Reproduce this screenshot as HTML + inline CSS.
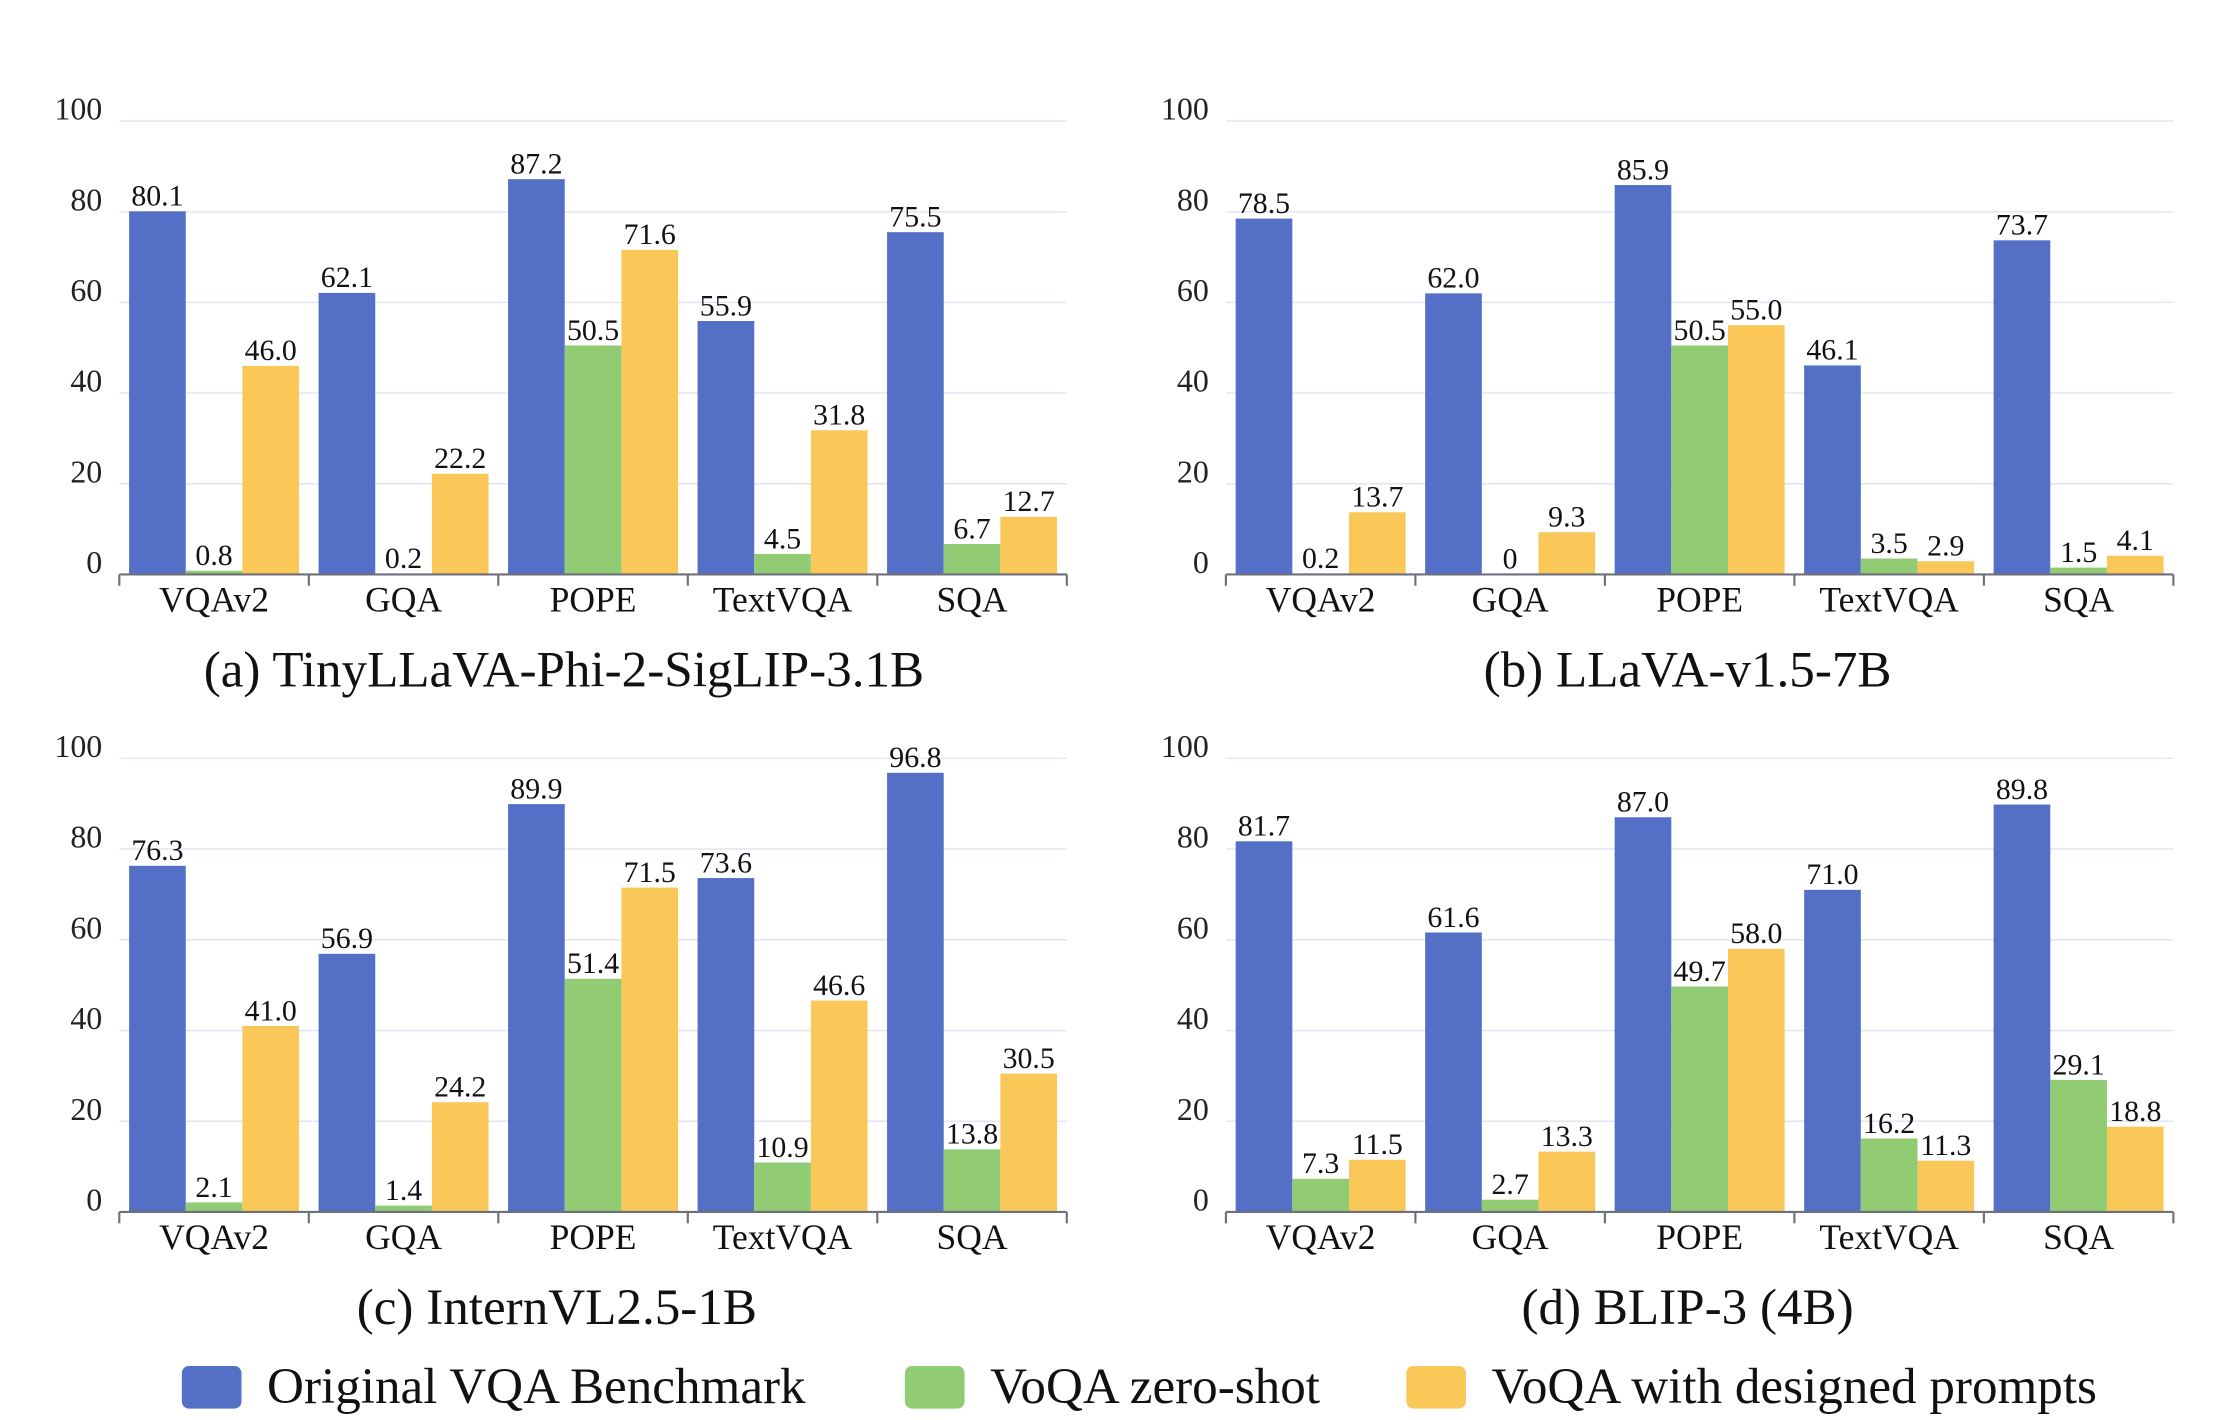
<!DOCTYPE html>
<html><head><meta charset="utf-8"><style>
html,body{margin:0;padding:0;background:#fff;}
svg{display:block;font-family:"Liberation Serif","Times New Roman",serif;}
</style></head><body>
<svg id="chart" width="2216" height="1420" viewBox="0 0 1560 1000" preserveAspectRatio="none" xmlns="http://www.w3.org/2000/svg"></svg>
<script>
const categories = ["VQAv2","GQA","POPE","TextVQA","SQA"];
const yTicks = [0,20,40,60,80,100];
const seriesNames = ["Original VQA Benchmark","VoQA zero-shot","VoQA with designed prompts"];
const seriesColors = ["#5470c6","#91cc75","#fac858"];
const captions = ["(a) TinyLLaVA-Phi-2-SigLIP-3.1B","(b) LLaVA-v1.5-7B","(c) InternVL2.5-1B","(d) BLIP-3 (4B)"];
const aBlue = [80.1,62.1,87.2,55.9,75.5];
const aGreen = [0.8,0.2,50.5,4.5,6.7];
const aYellow = [46.0,22.2,71.6,31.8,12.7];
const bBlue = [78.5,62.0,85.9,46.1,73.7];
const bGreen = [0.2,0,50.5,3.5,1.5];
const bYellow = [13.7,9.3,55.0,2.9,4.1];
const cBlue = [76.3,56.9,89.9,73.6,96.8];
const cGreen = [2.1,1.4,51.4,10.9,13.8];
const cYellow = [41.0,24.2,71.5,46.6,30.5];
const dBlue = [81.7,61.6,87.0,71.0,89.8];
const dGreen = [7.3,2.7,49.7,16.2,29.1];
const dYellow = [11.5,13.3,58.0,11.3,18.8];
const panelData = [[aBlue,aGreen,aYellow],[bBlue,bGreen,bYellow],[cBlue,cGreen,cYellow],[dBlue,dGreen,dYellow]];

const NS="http://www.w3.org/2000/svg";
const svg=document.getElementById('chart');
function mk(tag,attrs,parent){const e=document.createElementNS(NS,tag);for(const k in attrs)e.setAttribute(k,attrs[k]);(parent||svg).appendChild(e);return e;}
function fmt(v){return v===0?"0":v.toFixed(1);}

const panels=[{x0:84,x1:751,yTop:85.3,yBot:404.5,cx:397},{x0:863,x1:1530,yTop:85.3,yBot:404.5,cx:1188},{x0:84,x1:751,yTop:534,yBot:853.5,cx:392},{x0:863,x1:1530,yTop:534,yBot:853.5,cx:1188}];
const panelNames=["panel-a","panel-b","panel-c","panel-d"];
const seriesKeys=["original","zero-shot","designed-prompts"];

panels.forEach((p,pi)=>{
  const g=mk('g',{});
  
  
  const yScale=v=>p.yBot-(v/100)*(p.yBot-p.yTop);
  const bandW=(p.x1-p.x0)/categories.length;
  const xBand=i=>p.x0+i*bandW;
  const barW=bandW*0.299;
  const pad=(bandW-3*barW)/2;
  yTicks.forEach(t=>{
    const y=yScale(t);
    if(t>0){const l=mk('line',{x1:p.x0,x2:p.x1,y1:y,y2:y,stroke:'#e0e6f1','stroke-width':1},g);
      }
    const tx=mk('text',{x:p.x0-12,y:y-1,'font-size':22.5,'text-anchor':'end',fill:'#222'},g);
    
    tx.textContent=String(t);
  });
  panelData[pi].forEach((vals,si)=>{
    vals.forEach((v,ci)=>{
      const x=xBand(ci)+pad+si*barW;
      const y=yScale(v);
      const r=mk('rect',{x:x,y:y,width:barW,height:p.yBot-y,fill:seriesColors[si]},g);
      
      
      const t=mk('text',{x:x+barW/2,y:y-4,'font-size':21,'text-anchor':'middle',fill:'#111'},g);
      
      t.textContent=fmt(v);
    });
  });
  const ax=mk('line',{x1:p.x0,x2:p.x1,y1:p.yBot,y2:p.yBot,stroke:'#6e7079','stroke-width':1.5},g);
  
  for(let i=0;i<=categories.length;i++){
    const tk=mk('line',{x1:xBand(i),x2:xBand(i),y1:p.yBot,y2:p.yBot+8,stroke:'#6e7079','stroke-width':1.5},g);
    
  }
  categories.forEach((c,ci)=>{
    const t=mk('text',{x:xBand(ci)+bandW/2,y:p.yBot+26,'font-size':25,'text-anchor':'middle',fill:'#111'},g);
    
    t.textContent=c;
  });
  const cap=mk('text',{x:p.cx,y:p.yBot+79,'font-size':36,'text-anchor':'middle',fill:'#111'},g);
  
  cap.textContent=captions[pi];
});

const legendX=[128,637,990];
const lg=mk('g',{});

seriesNames.forEach((n,i)=>{
  const r=mk('rect',{x:legendX[i],y:962,width:42,height:30,rx:5,fill:seriesColors[i]},lg);
  
  const t=mk('text',{x:legendX[i]+60,y:988,'font-size':36,fill:'#111'},lg);
  
  t.textContent=n;
});
</script>
</body></html>
